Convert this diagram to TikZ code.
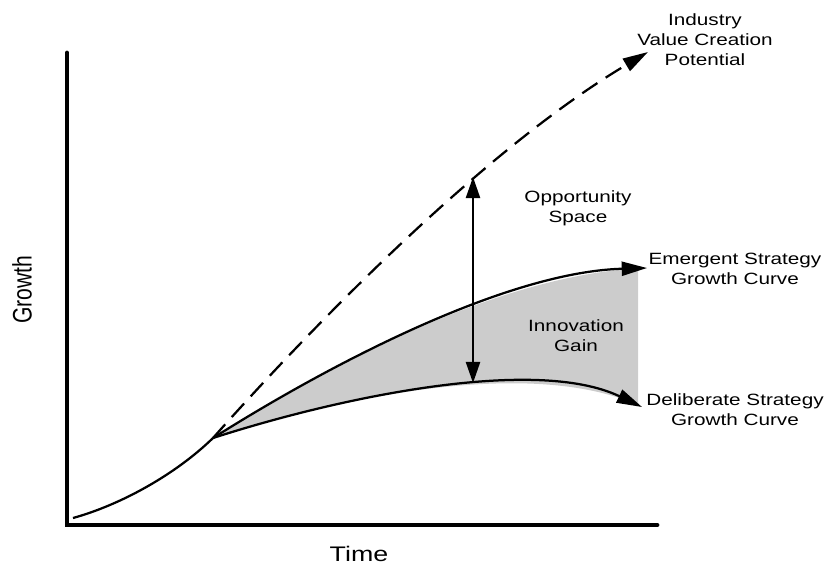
\documentclass[tikz,border=0pt]{standalone}
\usepackage{fontspec}
\setmainfont{Liberation Sans}[FakeStretch=1.27]
\newfontfamily\plainsans{Liberation Sans}
\usetikzlibrary{arrows.meta}
\definecolor{gaingray}{gray}{0.8}

\begin{document}
\begin{tikzpicture}[x=0.025cm, y=-0.025cm,
    axisline/.style={line width=3.4pt, line cap=round},
    growthline/.style={line width=1.6pt},
    endarrow/.style={-{Triangle[length=18pt,width=10pt]}},
    txt/.style={align=center, inner sep=0pt, font=\fontsize{11.6}{14.2}\selectfont}]
    \useasboundingbox (0,0) rectangle (827,566);

    % axes
    \coordinate (ytop) at (67,53);
    \coordinate (corner) at (67,525);
    \coordinate (xend) at (657,525);
    \draw[axisline] (ytop) -- (corner) -- (xend);

    % curve points
    \coordinate (start) at (73,518);
    \coordinate (knee) at (213,438);
    \coordinate (potTip) at (648,52);
    \coordinate (emTip) at (647,268);
    \coordinate (delTip) at (642,407);
    \coordinate (gapTop) at (473,177);
    \coordinate (gapBot) at (473,383);

    % innovation gain area
    \begin{scope}
        \clip (0,0) rectangle (638,566);
        \fill[gaingray] (knee) .. controls (340,358) and (510,272) .. (emTip)
            -- (delTip) .. controls (535,356) and (340,397) .. (knee) -- cycle;
    \end{scope}

    \draw[growthline] (start) .. controls (120,505) and (175,475) .. (knee);
    \draw[growthline, endarrow, dash pattern=on 13pt off 7pt]
        (knee) .. controls (300,340) and (478,153) .. (potTip);
    \draw[growthline, endarrow] (knee) .. controls (340,358) and (510,272) .. (emTip);
    \draw[growthline, endarrow] (knee) .. controls (340,397) and (535,356) .. (delTip);
    \draw[growthline, {Triangle[length=15pt,width=10pt]}-{Triangle[length=15pt,width=10pt]}]
        (gapTop) -- (gapBot);

    % labels
    \node[txt] (potential) at (705,40) {Industry\\Value Creation\\Potential};
    \node[txt] (opportunity) at (578,208) {Opportunity\\Space};
    \node[txt] (emergent) at (735,269) {Emergent Strategy\\Growth Curve};
    \node[txt] (gain) at (576,336) {Innovation\\Gain};
    \node[txt] (deliberate) at (735,410) {Deliberate Strategy\\Growth Curve};
    \node[inner sep=0pt, font=\fontsize{15}{18}\selectfont] (time) at (359,554) {Time};
    \node[inner sep=0pt, rotate=90, font=\fontsize{15}{18}\plainsans] (growth) at (22,290)
        {\scalebox{1}[1.27]{Growth}};
\end{tikzpicture}
\end{document}
